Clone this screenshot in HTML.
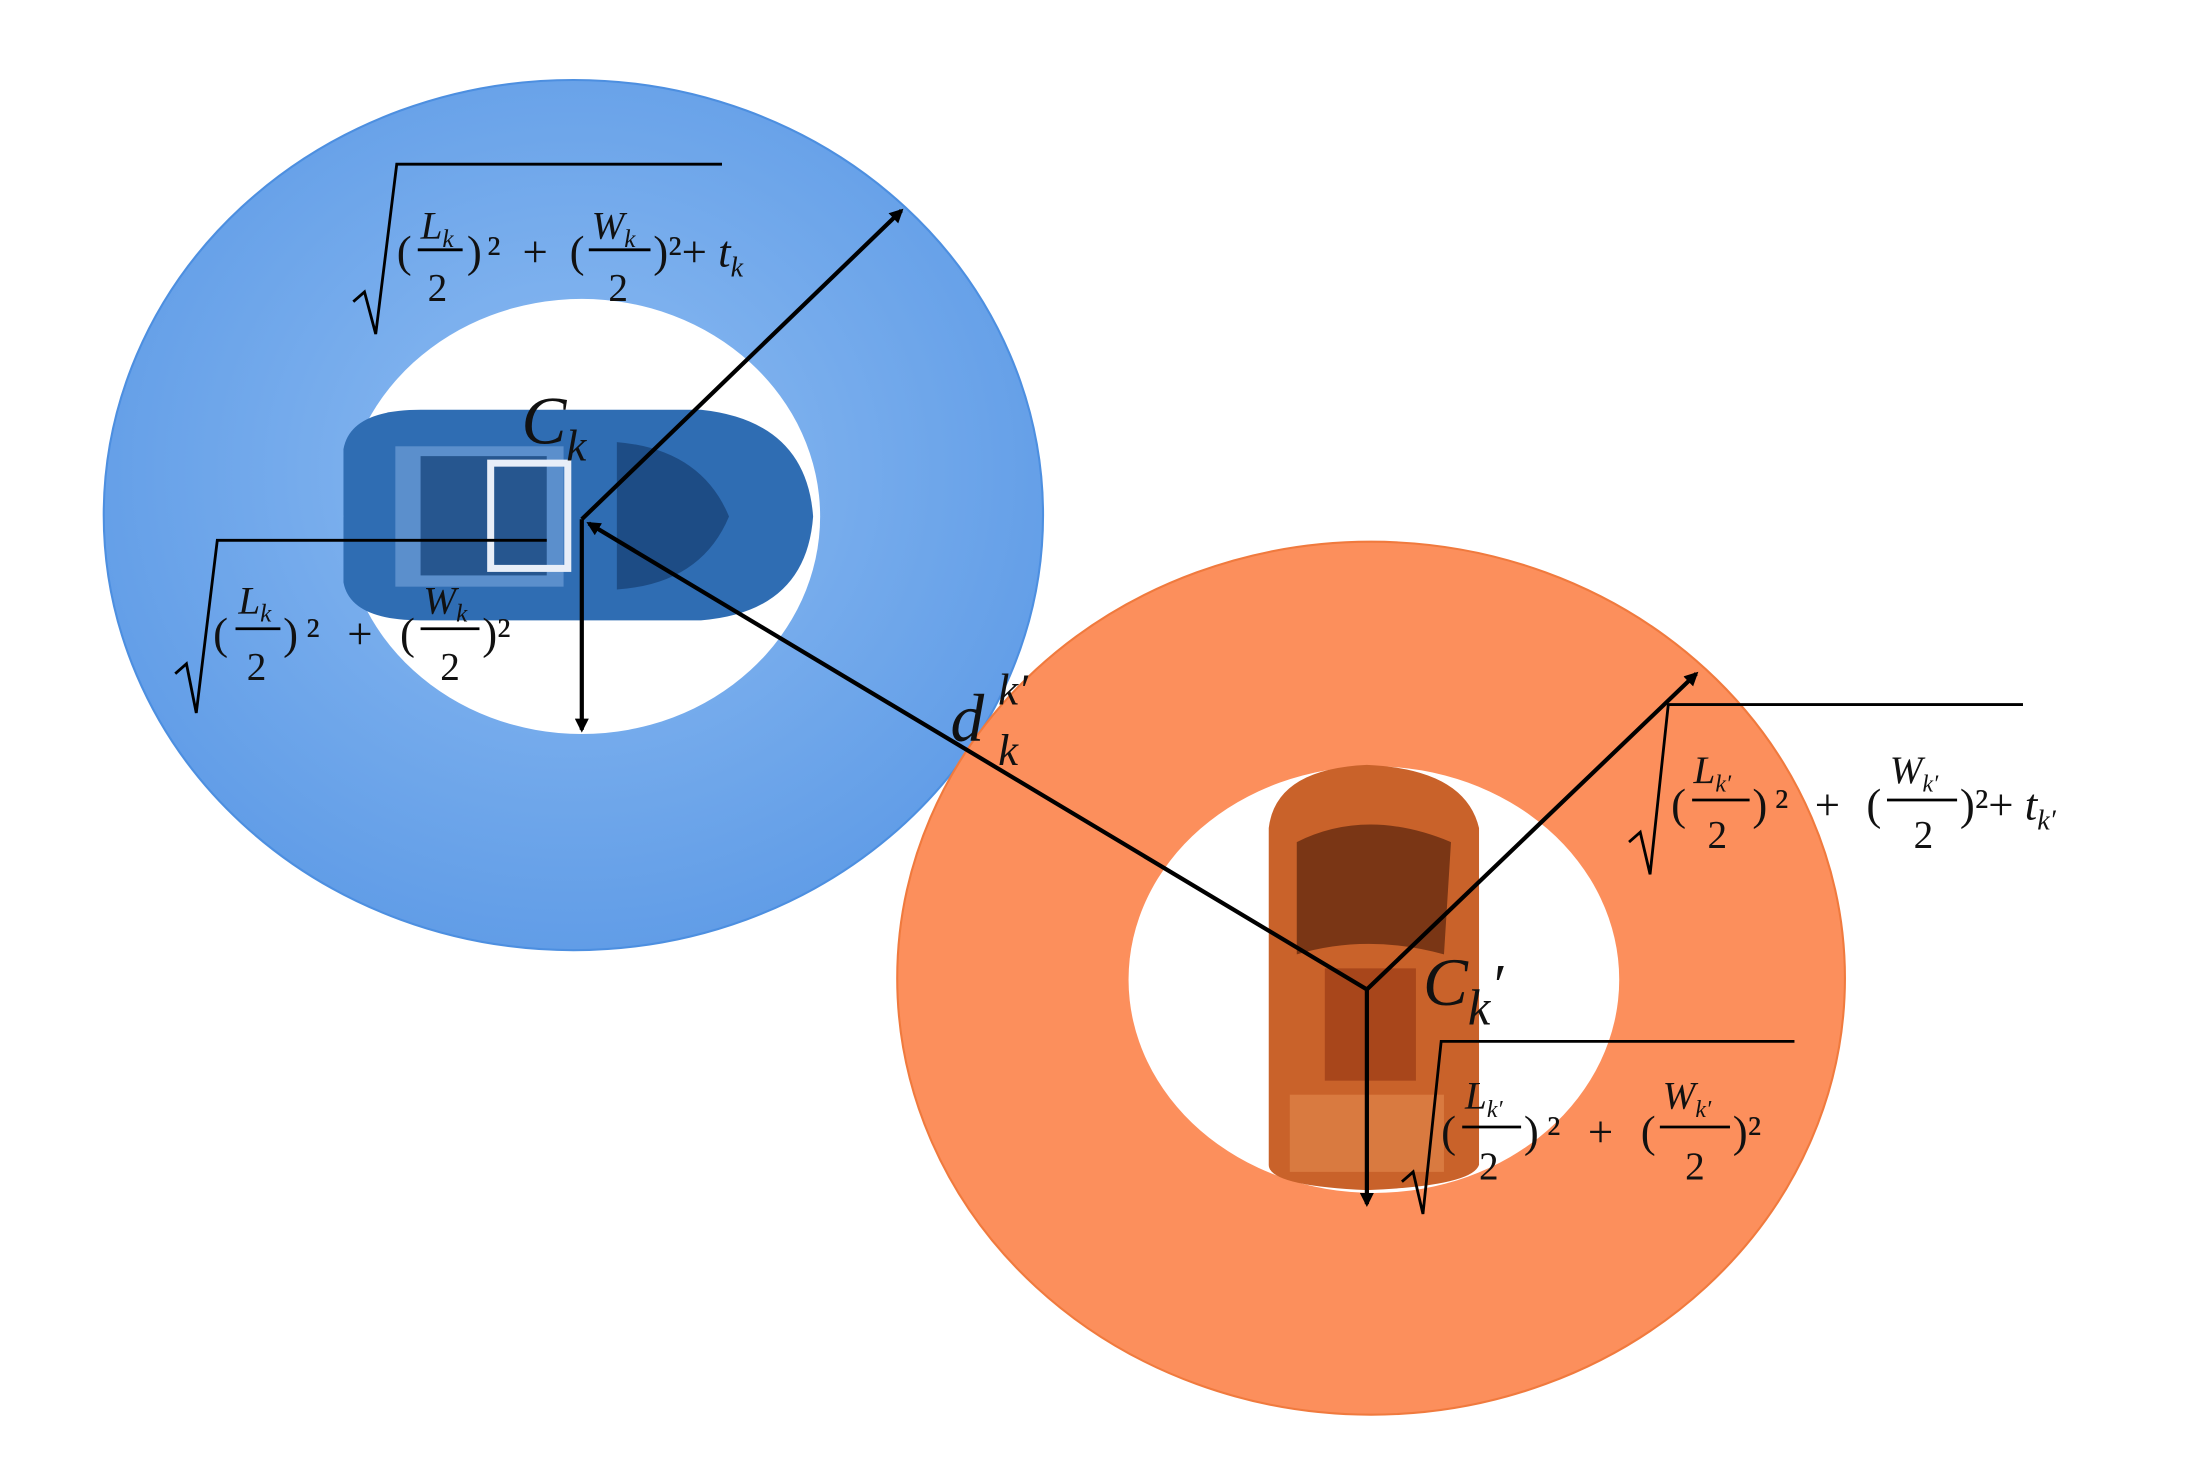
<!DOCTYPE html>
<html><head><meta charset="utf-8"><style>
html,body{margin:0;padding:0;background:#fff}
svg{display:block}
text{font-family:"Liberation Serif",serif;fill:#111}
.i{font-style:italic}
</style></head><body>
<svg width="2187" height="1461" viewBox="0 0 1560 1041" preserveAspectRatio="none" xmlns="http://www.w3.org/2000/svg">
<defs>
<radialGradient id="bg" cx="50%" cy="45%" r="60%"><stop offset="0" stop-color="#8dbcf2"/><stop offset="1" stop-color="#5d9ae6"/></radialGradient>
<marker id="ah" markerWidth="10" markerHeight="10" refX="8" refY="5" orient="auto" markerUnits="userSpaceOnUse"><path d="M0,0 L10,5 L0,10 z" fill="#000"/></marker>
</defs>
<ellipse cx="409" cy="367" rx="335" ry="310" fill="url(#bg)" stroke="#4d8fe0" stroke-width="1.5"/>
<ellipse cx="978" cy="697" rx="338" ry="311" fill="#fc8f5c" stroke="#f07a3e" stroke-width="1.5"/>
<ellipse cx="415" cy="368" rx="170" ry="155" fill="#fff"/>
<ellipse cx="980" cy="698" rx="175" ry="152" fill="#fff"/>
<g>
<path d="M245,320 Q250,292 300,292 L500,292 Q575,300 580,368 Q575,436 500,442 L300,442 Q250,442 245,415 Z" fill="#2f6db3"/>
<rect x="282" y="318" width="120" height="100" fill="#5b8fcc"/>
<rect x="300" y="325" width="90" height="85" fill="#26568f"/>
<path d="M440,315 Q500,320 520,368 Q500,416 440,420 Z" fill="#1d4c85"/>
<rect x="350" y="330" width="55" height="75" fill="none" stroke="#e8eef8" stroke-width="5"/>
</g>
<g>
<path d="M905,590 Q910,548 975,545 Q1045,548 1055,590 L1055,830 Q1050,845 975,848 Q905,845 905,830 Z" fill="#c9622a"/>
<path d="M925,600 Q975,575 1035,600 L1030,680 Q975,665 925,680 Z" fill="#7a3615"/>
<rect x="945" y="690" width="65" height="80" fill="#a8461b"/>
<rect x="920" y="780" width="110" height="55" fill="#d97a40"/>
</g>
<g stroke="#000" stroke-width="3" fill="none">
<line x1="415" y1="370" x2="643" y2="150" marker-end="url(#ah)"/>
<line x1="415" y1="370" x2="415" y2="520" marker-end="url(#ah)"/>
<line x1="975" y1="705" x2="420" y2="373" marker-end="url(#ah)"/>
<line x1="975" y1="705" x2="1210" y2="480" marker-end="url(#ah)"/>
<line x1="975" y1="705" x2="975" y2="858" marker-end="url(#ah)"/>
</g>
<g stroke="#000" stroke-width="2" fill="none">
<polyline points="252,215 260,208 268,238 283,117 515,117"/>
<polyline points="125,480 133,473 140,508 155,385 390,385"/>
<polyline points="1162,600 1170,593 1177,623 1190,502 1443,502"/>
<polyline points="1000,842 1008,835 1015,865 1028,742 1280,742"/>
</g>
<text x="283" y="190" font-size="32">(</text>
<text x="300" y="170" font-size="28" class="i">L<tspan font-size="18" dy="6">k</tspan></text>
<line x1="298" y1="178" x2="330" y2="178" stroke="#000" stroke-width="2"/>
<text x="305" y="214" font-size="28">2</text>
<text x="333" y="190" font-size="32" textLength="84" lengthAdjust="spacing">)² + (</text>
<text x="422" y="170" font-size="28" class="i">W<tspan font-size="18" dy="6">k</tspan></text>
<line x1="420" y1="178" x2="464" y2="178" stroke="#000" stroke-width="2"/>
<text x="434" y="214" font-size="28">2</text>
<text x="466" y="190" font-size="32">)²+ <tspan class="i">t</tspan><tspan font-size="20" dy="7" class="i">k</tspan></text>
<text x="372" y="316" font-size="48" class="i">C<tspan font-size="32" dy="12">k</tspan></text>
<text x="152" y="462" font-size="32">(</text>
<text x="170" y="437" font-size="28" class="i">L<tspan font-size="18" dy="6">k</tspan></text>
<line x1="168" y1="448" x2="200" y2="448" stroke="#000" stroke-width="2"/>
<text x="176" y="484" font-size="28">2</text>
<text x="202" y="462" font-size="32" textLength="94" lengthAdjust="spacing">)² + (</text>
<text x="302" y="437" font-size="28" class="i">W<tspan font-size="18" dy="6">k</tspan></text>
<line x1="300" y1="448" x2="342" y2="448" stroke="#000" stroke-width="2"/>
<text x="314" y="484" font-size="28">2</text>
<text x="344" y="462" font-size="32">)²</text>
<text x="678" y="528" font-size="48" class="i">d</text>
<text x="712" y="502" font-size="32" class="i">k′</text>
<text x="712" y="545" font-size="32" class="i">k</text>
<text x="1192" y="584" font-size="32">(</text>
<text x="1208" y="558" font-size="28" class="i">L<tspan font-size="17" dy="6">k′</tspan></text>
<line x1="1207" y1="570" x2="1248" y2="570" stroke="#000" stroke-width="2"/>
<text x="1218" y="604" font-size="28">2</text>
<text x="1250" y="584" font-size="32" textLength="92" lengthAdjust="spacing">)² + (</text>
<text x="1348" y="558" font-size="28" class="i">W<tspan font-size="17" dy="6">k′</tspan></text>
<line x1="1346" y1="570" x2="1396" y2="570" stroke="#000" stroke-width="2"/>
<text x="1365" y="604" font-size="28">2</text>
<text x="1398" y="584" font-size="32">)²+ <tspan class="i">t</tspan><tspan font-size="20" dy="7" class="i">k′</tspan></text>
<text x="1015" y="716" font-size="48" class="i">C<tspan font-size="36" dy="14">k</tspan><tspan dy="-14" font-size="42">′</tspan></text>
<text x="1028" y="817" font-size="32">(</text>
<text x="1045" y="790" font-size="28" class="i">L<tspan font-size="17" dy="6">k′</tspan></text>
<line x1="1043" y1="803" x2="1085" y2="803" stroke="#000" stroke-width="2"/>
<text x="1055" y="840" font-size="28">2</text>
<text x="1087" y="817" font-size="32" textLength="94" lengthAdjust="spacing">)² + (</text>
<text x="1186" y="790" font-size="28" class="i">W<tspan font-size="17" dy="6">k′</tspan></text>
<line x1="1184" y1="803" x2="1234" y2="803" stroke="#000" stroke-width="2"/>
<text x="1202" y="840" font-size="28">2</text>
<text x="1236" y="817" font-size="32">)²</text>
</svg>
</body></html>
